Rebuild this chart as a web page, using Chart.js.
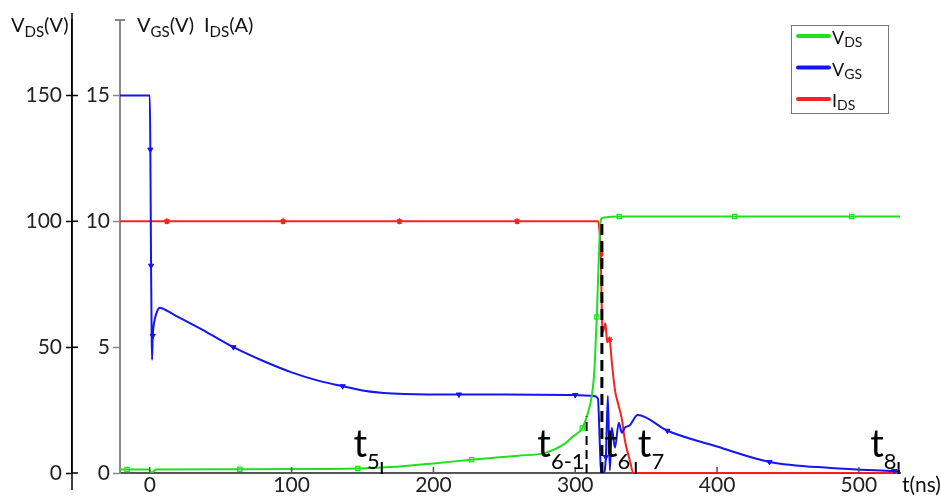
<!DOCTYPE html>
<html>
<head>
<meta charset="utf-8">
<script src="https://cdn.jsdelivr.net/npm/chart.js@4.4.1/dist/chart.umd.min.js"></script>
<style>
  html, body { margin: 0; padding: 0; background: #fff; }
  #wrap { position: relative; width: 941px; height: 502px; }
</style>
</head>
<body>
<div id="wrap"><canvas id="chart"></canvas></div>
<script>
// switching waveforms, time in ns
const tVds = [-21, -16, -0.5, 1.2, 2.5, 4, 6, 63.5, 120, 146.7, 163, 176, 200, 227, 260, 278.6, 293, 298, 305, 309, 311.5, 313, 313.8, 315.2, 316.6, 318, 319.5, 331, 412.5, 495, 529];
const vds = [1.4, 1.4, 1.4, 0.1, 0.6, 1.3, 1.4, 1.5, 1.6, 1.75, 2.2, 2.6, 3.8, 5.3, 6.9, 8.0, 11.8, 14.3, 17.9, 24, 30, 37, 44, 62, 85, 100.5, 101.4, 101.9, 101.9, 101.9, 101.9];
const vdsMarks = [-16, 63.5, 146.7, 227, 305, 315.2, 331, 412.5, 495];

const tVgs = [-21, 0, 0.4, 0.9, 1.3, 1.6, 2.1, 3, 5, 7, 12, 20, 40, 59, 80, 100, 120, 136, 150, 165, 180, 218, 250, 300, 313, 316, 317.3, 318.2, 320, 321.6, 323, 324.4, 325.8, 328, 330.7, 332.9, 335, 338.5, 344, 365, 400, 437, 480, 525, 529];
const vgs = [15, 15, 12.85, 8.24, 5.6, 4.5, 5.45, 5.95, 6.4, 6.57, 6.45, 6.2, 5.6, 5.0, 4.45, 4.0, 3.65, 3.45, 3.28, 3.18, 3.14, 3.12, 3.12, 3.1, 3.06, 2.95, 1.2, 0, 0, 0.64, 3.06, 0.1, 1.8, 1.0, 2.0, 1.6, 1.8, 1.9, 2.3, 1.68, 1.05, 0.44, 0.2, 0.08, 0.07];
const vgsMarks = [0.4, 0.9, 2.1, 59, 136, 218, 300, 321.6, 365, 437, 525];

const tIds = [-21, 12, 94, 176, 259, 316, 316.8, 318, 318.8, 319.5, 321.3, 322.5, 324.2, 325.8, 328, 330, 333, 335, 338.5, 341, 529];
const ids = [10, 10, 10, 10, 10, 10, 9.8, 8.7, 6.2, 5.6, 5.95, 5.2, 5.3, 4.4, 3.3, 2.8, 2.1, 1.3, 0.5, 0, 0];
const idsMarks = [12, 94, 176, 259, 318, 324.2];

const timeTicks = [0, 100, 200, 300, 400, 500];
const vdsTicks = [0, 50, 100, 150];
const vgsTicks = [0, 5, 10, 15];

// phase boundaries t5 .. t8
const phaseNames = ['5', '6-1', '6', '7', '8'];
const phaseTimes = [163.6, 308, 318.8, 342.7, 528];

const GREEN = '#1ee01e', BLUE = '#1515f0', RED = '#f42323';
const FONT = 'Lato, "Open Sans", sans-serif';

const series = (ts, vs) => ts.map((t, i) => ({ x: t, y: vs[i] }));
const markAt = marks => c => (c.raw && marks.includes(c.raw.x)) ? 3 : 0;

function valueAt(ts, vs, t) {
  for (let i = 1; i < ts.length; i++) {
    if (t <= ts[i]) {
      const f = (t - ts[i - 1]) / (ts[i] - ts[i - 1]);
      return vs[i - 1] + f * (vs[i] - vs[i - 1]);
    }
  }
  return vs[vs.length - 1];
}

// text runs with subscripts: [text, size, dy]
function drawRuns(ctx, x, y, parts, align) {
  let total = 0;
  const widths = parts.map(p => {
    ctx.font = p[1] + 'px ' + FONT;
    const w = ctx.measureText(p[0]).width;
    total += w;
    return w;
  });
  if (align === 'right') x -= total;
  ctx.textBaseline = 'alphabetic';
  ctx.textAlign = 'left';
  parts.forEach((p, i) => {
    ctx.font = p[1] + 'px ' + FONT;
    ctx.fillText(p[0], x, y + (p[2] || 0));
    x += widths[i];
  });
}

const decor = {
  id: 'decor',
  afterDraw(chart) {
    const { ctx, chartArea: area } = chart;
    const { x, yv, yg } = chart.scales;
    const x0 = yv.right, xg = yg.right, yb = area.bottom;
    ctx.save();

    // VDS axis line runs past the plot, ticks cross it
    ctx.strokeStyle = '#000';
    ctx.lineWidth = 1.5;
    ctx.beginPath();
    ctx.moveTo(x0, 13); ctx.lineTo(x0, 490);
    vdsTicks.forEach(v => {
      const py = yv.getPixelForValue(v);
      ctx.moveTo(x0, py); ctx.lineTo(x0 + 6, py);
    });
    ctx.stroke();

    // cap on top of VGS axis
    ctx.strokeStyle = '#888';
    ctx.lineWidth = 2;
    ctx.beginPath();
    ctx.moveTo(xg - 5, area.top); ctx.lineTo(xg + 5, area.top);
    ctx.stroke();

    // time ticks point up into the plot
    ctx.strokeStyle = '#555';
    ctx.lineWidth = 1.5;
    ctx.beginPath();
    timeTicks.forEach(t => {
      const px = x.getPixelForValue(t);
      ctx.moveTo(px, yb); ctx.lineTo(px, yb - 6);
    });
    ctx.stroke();

    // phase markers
    ctx.strokeStyle = '#000';
    ctx.fillStyle = '#000';
    phaseTimes.forEach((t, i) => {
      const px = x.getPixelForValue(t);
      ctx.beginPath();
      if (i === 1 || i === 2) {
        const top = yv.getPixelForValue(valueAt(tVds, vds, t));
        ctx.lineWidth = i === 2 ? 3 : 2;
        ctx.setLineDash(i === 2 ? [11, 6] : [9, 5]);
        ctx.moveTo(px, yb); ctx.lineTo(px, top);
      } else {
        ctx.lineWidth = 2;
        ctx.setLineDash([]);
        ctx.moveTo(px, yb - 11); ctx.lineTo(px, yb + 1);
      }
      ctx.stroke();
      ctx.setLineDash([]);
      const right = i === 2 || i === 3;
      drawRuns(ctx, right ? px + 2 : px - 2, yb - 16,
        [['t', 38], [phaseNames[i], 22, 12]], right ? 'left' : 'right');
    });

    // axis titles
    ctx.fillStyle = '#111';
    drawRuns(ctx, 11, 32, [['V', 20], ['DS', 15, 5], ['(V)', 20]]);
    drawRuns(ctx, 137, 32, [['V', 20], ['GS', 15, 5], ['(V)', 20]]);
    drawRuns(ctx, 204, 32, [['I', 20], ['DS', 15, 5], ['(A)', 20]]);
    drawRuns(ctx, 902, 492, [['t(ns)', 21]]);

    // legend
    ctx.fillStyle = '#fff';
    ctx.fillRect(791, 25, 97, 88);
    ctx.strokeStyle = '#777';
    ctx.lineWidth = 1;
    ctx.strokeRect(791.5, 25.5, 97, 88);
    const entries = [[GREEN, 'V', 'DS'], [BLUE, 'V', 'GS'], [RED, 'I', 'DS']];
    entries.forEach((e, i) => {
      const ly = 36 + i * 31.5;
      ctx.strokeStyle = e[0];
      ctx.lineWidth = 4;
      ctx.lineCap = 'round';
      ctx.beginPath();
      ctx.moveTo(798, ly); ctx.lineTo(829, ly);
      ctx.stroke();
      ctx.fillStyle = '#111';
      drawRuns(ctx, 832, ly + 8, [[e[1], 18], [e[2], 14, 3]]);
    });
    ctx.restore();
  }
};

const lineStyle = {
  borderWidth: 2,
  pointHoverRadius: 0,
  cubicInterpolationMode: 'monotone',
  fill: false
};

new Chart(document.getElementById('chart'), {
  type: 'line',
  data: {
    datasets: [
      Object.assign({
        label: 'VDS', yAxisID: 'yv', data: series(tVds, vds),
        borderColor: GREEN, pointStyle: 'rect', pointBorderColor: GREEN,
        pointBackgroundColor: 'rgba(255,255,255,0)', pointBorderWidth: 1.2,
        pointRadius: markAt(vdsMarks)
      }, lineStyle),
      Object.assign({
        label: 'VGS', yAxisID: 'yg', data: series(tVgs, vgs),
        borderColor: BLUE, pointStyle: 'triangle', pointRotation: 180,
        pointBorderColor: BLUE, pointBackgroundColor: BLUE, pointBorderWidth: 1,
        pointRadius: markAt(vgsMarks)
      }, lineStyle),
      Object.assign({
        label: 'IDS', yAxisID: 'yg', data: series(tIds, ids),
        borderColor: RED, pointStyle: 'star', pointBorderColor: RED,
        pointBackgroundColor: RED, pointBorderWidth: 1.5,
        pointRadius: markAt(idsMarks)
      }, lineStyle)
    ]
  },
  options: {
    responsive: true,
    maintainAspectRatio: false,
    animation: false,
    devicePixelRatio: 1,
    layout: { padding: { top: 20, right: 41, left: 0, bottom: 0 } },
    plugins: { legend: { display: false }, tooltip: { enabled: false } },
    scales: {
      x: {
        type: 'linear', min: -21, max: 529,
        afterBuildTicks: s => { s.ticks = timeTicks.map(v => ({ value: v })); },
        afterFit: s => { s.height = 29; },
        grid: { display: true, drawOnChartArea: false, drawTicks: false },
        border: { display: true, color: '#555', width: 2 },
        ticks: { color: '#222', padding: 0, font: { family: FONT, size: 21 } }
      },
      yv: {
        type: 'linear', position: 'left', weight: 1, min: 0, max: 180,
        afterBuildTicks: s => { s.ticks = vdsTicks.map(v => ({ value: v })); },
        afterFit: s => { s.width = 72; },
        grid: { drawOnChartArea: false, drawTicks: true, tickLength: 6, color: '#000', tickWidth: 1.5 },
        border: { display: true, color: '#000', width: 1.5 },
        ticks: { color: '#222', padding: 4, font: { family: FONT, size: 21 } }
      },
      yg: {
        type: 'linear', position: 'left', weight: 0, min: 0, max: 18,
        afterBuildTicks: s => { s.ticks = vgsTicks.map(v => ({ value: v })); },
        afterFit: s => { s.width = 48; },
        grid: { drawOnChartArea: false, drawTicks: true, tickLength: 7, color: '#888', tickWidth: 1.5 },
        border: { display: true, color: '#888', width: 2 },
        ticks: { color: '#222', padding: 3, font: { family: FONT, size: 21 } }
      }
    }
  },
  plugins: [decor]
});
</script>
</body>
</html>
